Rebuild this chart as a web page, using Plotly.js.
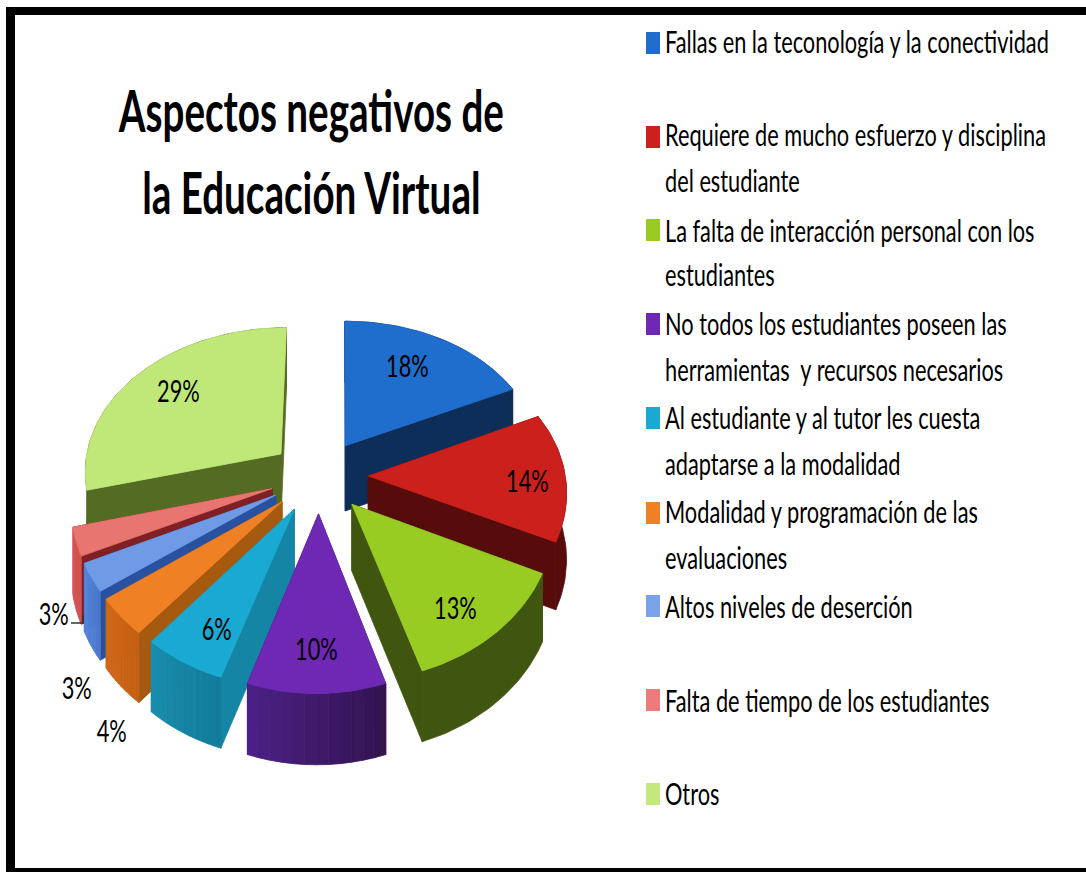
<!DOCTYPE html>
<html>
<head>
<meta charset="utf-8">
<script src="https://cdn.plot.ly/plotly-3.0.1.min.js"></script>
<style>html,body{margin:0;padding:0;background:#fff}#chart{width:1086px;height:872px}</style>
</head>
<body>
<div id="chart"></div>
<script>
// ---------- data ----------
var titleLines = ['Aspectos negativos de','la Educación Virtual'];
var categories = [
  'Fallas en la teconología y la conectividad',
  'Requiere de mucho esfuerzo y disciplina<br>del estudiante',
  'La falta de interacción personal con los<br>estudiantes',
  'No todos los estudiantes poseen las<br>herramientas  y recursos necesarios',
  'Al estudiante y al tutor les cuesta<br>adaptarse a la modalidad',
  'Modalidad y programación de las<br>evaluaciones',
  'Altos niveles de deserción',
  'Falta de tiempo de los estudiantes',
  'Otros'
];
var values = [18, 14, 13, 10, 6, 4, 3, 3, 29];

// ---------- styles ----------
var topColors   = ['#1f6dcc','#cc201c','#98cc22','#6e28b4','#1aa9d2','#f08024','#6f9be6','#e87570','#bfe878'];
var radialColors= ['#0e2e5a','#560c0a','#3f5510','#3d1c70','#1585a5','#a55a10','#2a50a0','#7e2024','#546b22'];
var rimLeft     = ['#0e2e5a','#560c0a','#3f5510','#4a2084','#1a8cac','#d0681a','#5585dc','#d85558','#546b22'];
var rimRight    = ['#0e2e5a','#560c0a','#3f5510','#331450','#117c9a','#c46012','#4a78cc','#d05050','#546b22'];
var swatchColors= ['#1f6dcc','#cc201c','#98cc22','#6e28b4','#1aa9d2','#f08024','#7aa3ea','#ee7b7b','#c4e87c'];
var labelPos = [[407,365],[527,480],[455,607],[316,648],[216,628],[111,730],[76,687],[53,613],[178,390]];
var legendBase = [[52],[145,191],[241,285],[334,380],[428,474],[522,568],[617],[711],[804]];
var swatchTop  = [32,126,219,313,407,502,595,689,783];
var FONT = 'Lato,"Liberation Sans",sans-serif';
var SIZE = 30, TITLE_SIZE = 58, BASE_OFFSET = 11, TITLE_OFFSET = 21;

// ---------- projection of the exploded pie onto the page ----------
var cx=319, cy=476, R=197, Rv=147, kx=0.1, ky=0.124, EX=0.25, DEPTH=66, SKEW=2;
function proj(X,Y,down){
  var sx = cx + SKEW*Y + R*X/(1+kx*Y);
  var sy = cy - Rv*Y/(1+ky*Y);
  if(down) sy += DEPTH/(1+0.06*Y);
  return [sx,sy];
}
function poly(pts,color){
  return {x:pts.map(function(p){return p[0]}).concat([pts[0][0]]),
          y:pts.map(function(p){return p[1]}).concat([pts[0][1]]),
          mode:'lines',fill:'toself',fillcolor:color,
          line:{color:color,width:0.8},hoverinfo:'skip',showlegend:false,type:'scatter'};
}
function mix(a,b,t){
  var pa=parseInt(a.slice(1),16),pb=parseInt(b.slice(1),16),o=[];
  [16,8,0].forEach(function(s){o.push(Math.round(((pa>>s)&255)*(1-t)+((pb>>s)&255)*t))});
  return 'rgb('+o.join(',')+')';
}
var total=values.reduce(function(a,b){return a+b},0), cum=0;
var slices=values.map(function(v,i){
  var a0=cum/total*2*Math.PI; cum+=v; var a1=cum/total*2*Math.PI; var m=(a0+a1)/2;
  return {i:i,a0:a0,a1:a1,ox:EX*Math.sin(m),oy:EX*Math.cos(m)};
});
var traces=[];
slices.slice().sort(function(p,q){return q.oy-p.oy}).forEach(function(s){
  var i=s.i, n=Math.max(6,Math.round((s.a1-s.a0)*40));
  function rim(t){var a=s.a0+(s.a1-s.a0)*t;return [s.ox+Math.sin(a),s.oy+Math.cos(a)];}
  var A=[s.ox,s.oy], P0=rim(0), P1=rim(1);
  [P0,P1].forEach(function(P){
    traces.push(poly([proj(A[0],A[1]),proj(P[0],P[1]),proj(P[0],P[1],true),proj(A[0],A[1],true)],radialColors[i]));
  });
  var strips=rimLeft[i]===rimRight[i]?1:12;
  for(var k=0;k<strips;k++){
    var pts=[],pb=[],sub=strips===1?n:4;
    for(var j=0;j<=sub;j++){
      var q=rim((k+j/sub)/strips);
      pts.push(proj(q[0],q[1])); pb.unshift(proj(q[0],q[1],true));
    }
    traces.push(poly(pts.concat(pb),mix(rimRight[i],rimLeft[i],strips===1?0:k/(strips-1))));
  }
  var top=[proj(A[0],A[1])];
  for(var t=0;t<=n;t++){var r=rim(t/n);top.push(proj(r[0],r[1]));}
  traces.push(poly(top,topColors[i]));
});

// ---------- annotations & shapes ----------
var annotations=[], kinds=[];
var titleBase=[130,212];
titleLines.forEach(function(t,i){
  annotations.push({text:t,x:311,y:titleBase[i]-TITLE_OFFSET,xref:'x',yref:'y',showarrow:false,xanchor:'center',yanchor:'middle',
    font:{family:FONT,size:TITLE_SIZE,color:'#000',weight:700}});
  kinds.push('title');
});
var shapes=[
  {type:'rect',x0:6,x1:1086,y0:7,y1:15,xref:'x',yref:'y',line:{width:0},fillcolor:'#000'},
  {type:'rect',x0:6,x1:15,y0:7,y1:872,xref:'x',yref:'y',line:{width:0},fillcolor:'#000'},
  {type:'rect',x0:6,x1:1086,y0:868,y1:872,xref:'x',yref:'y',line:{width:0},fillcolor:'#000'},
  {type:'path',path:'M71,623 L83,623 L83,615',xref:'x',yref:'y',line:{color:'#333',width:1.5}}
];
values.forEach(function(v,i){
  annotations.push({text:v+'%',x:labelPos[i][0],y:labelPos[i][1],xref:'x',yref:'y',showarrow:false,
    font:{family:FONT,size:SIZE,color:'#000'}});
  kinds.push('label');
});
categories.forEach(function(c,i){
  c.split('<br>').forEach(function(line,j){
    annotations.push({text:line,x:663,y:legendBase[i][j]-BASE_OFFSET,xref:'x',yref:'y',showarrow:false,xanchor:'left',yanchor:'middle',align:'left',
      font:{family:FONT,size:SIZE,color:'#000'}});
    kinds.push('legend');
  });
  shapes.push({type:'rect',x0:646,x1:660,y0:swatchTop[i],y1:swatchTop[i]+22,xref:'x',yref:'y',line:{width:0},fillcolor:swatchColors[i]});
});

var layout={
  width:1086,height:872,margin:{l:0,r:0,t:0,b:0},paper_bgcolor:'#fff',plot_bgcolor:'#fff',showlegend:false,
  xaxis:{range:[0,1086],visible:false,fixedrange:true},
  yaxis:{range:[872,0],visible:false,fixedrange:true},
  annotations:annotations,shapes:shapes,hovermode:false
};
Plotly.newPlot('chart',traces,layout,{displayModeBar:false,staticPlot:true}).then(function(){
  // The reference lettering is condensed: narrow each text horizontally around its anchor.
  var nodes=document.querySelectorAll('#chart .annotation');
  var els=[];
  nodes.forEach(function(n){
    var idx=+n.getAttribute('data-index');
    els[idx]=n.querySelector('text');
  });
  var firstLegend=kinds.indexOf('legend');
  var sLegend=384/els[firstLegend].getBBox().width;
  var sTitle=386/els[0].getBBox().width;
  els.forEach(function(el,idx){
    var b=el.getBBox(), k=kinds[idx];
    var s=k==='title'?sTitle:sLegend;
    var c=k==='legend'?b.x:b.x+b.width/2;
    el.setAttribute('transform','translate('+(c*(1-s))+',0) scale('+s+',1)');
  });
});
</script>
</body>
</html>
